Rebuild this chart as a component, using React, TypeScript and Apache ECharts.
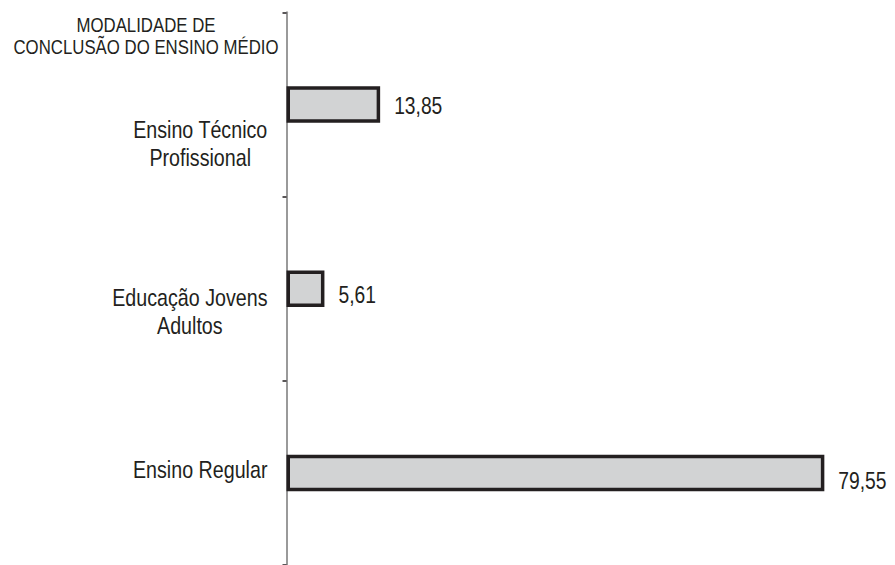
import React, { useEffect, useRef } from "react";
import * as echarts from "echarts";

const categories = ["Ensino Técnico\nProfissional", "Educação Jovens\nAdultos", "Ensino Regular"];
const values = [13.85, 5.61, 79.55];
const titleLines = ["MODALIDADE DE", "CONCLUSÃO DO ENSINO MÉDIO"];

// layout tweaks (not data)
const labelShift = [39, 23.5, -3];
const valueLabelShift = [2, 7, 8];

const FONT = "'Liberation Sans', Arial, Helvetica, sans-serif";
const NARROW = 0.82;
const CAT_SIZE = 24;
const INK = "#231f20";

function measure(text: string, size: number): number {
  const c = document.createElement("canvas").getContext("2d");
  if (!c) return text.length * size * 0.5;
  c.font = `${size}px ${FONT}`;
  return c.measureText(text).width;
}

export default function App() {
  const ref = useRef<HTMLDivElement>(null);
  useEffect(() => {
    if (!ref.current) return;
    const chart = echarts.init(ref.current, undefined, { renderer: "svg" });
    const pxPerUnit = 6.79;
    const xMax = 90;
    chart.setOption({
      animation: false,
      grid: { left: 286.5, top: 12.3, height: 558, width: xMax * pxPerUnit, containLabel: false },
      xAxis: { type: "value", min: 0, max: xMax, show: false },
      yAxis: {
        type: "category",
        inverse: true,
        data: categories,
        axisLine: { show: true, lineStyle: { color: "#9a9a9a", width: 2 } },
        axisTick: { show: true, length: 4, inside: false, lineStyle: { color: INK, width: 1.5 } },
        axisLabel: { show: false },
        splitLine: { show: false },
      },
      series: [
        {
          type: "bar",
          barWidth: 36.5,
          data: values,
          itemStyle: { color: "#d2d3d4", borderColor: INK, borderWidth: 3.5 },
          label: { show: false },
        },
      ],
    });

    const graphics: any[] = [
      {
        type: "text",
        id: "title",
        x: 146,
        y: 14,
        scaleX: NARROW,
        style: {
          text: titleLines.join("\n"),
          textAlign: "center",
          textVerticalAlign: "top",
          fontSize: 20.5,
          lineHeight: 22,
          fontFamily: FONT,
          fill: INK,
        },
      },
    ];

    categories.forEach((cat, i) => {
      const [axisX, yc] = chart.convertToPixel({ xAxisIndex: 0, yAxisIndex: 0 }, [0, i]) as number[];
      const lines = cat.split("\n");
      const w = Math.max(...lines.map((l) => measure(l, CAT_SIZE))) * NARROW;
      const rightEdge = axisX - 19;
      graphics.push({
        type: "text",
        id: "cat" + i,
        x: rightEdge - w / 2,
        y: yc + labelShift[i],
        scaleX: NARROW,
        style: {
          text: cat,
          textAlign: "center",
          textVerticalAlign: "middle",
          fontSize: CAT_SIZE,
          lineHeight: 28,
          fontFamily: FONT,
          fill: INK,
        },
      });
    });

    values.forEach((v, i) => {
      const [xe, yc] = chart.convertToPixel({ xAxisIndex: 0, yAxisIndex: 0 }, [v, i]) as number[];
      graphics.push({
        type: "text",
        id: "val" + i,
        x: xe + 14,
        y: yc + valueLabelShift[i],
        scaleX: NARROW,
        style: {
          text: v.toFixed(2).replace(".", ","),
          textAlign: "left",
          textVerticalAlign: "middle",
          fontSize: 23.5,
          fontFamily: FONT,
          fill: INK,
        },
      });
    });

    chart.setOption({ graphic: graphics });
    return () => chart.dispose();
  }, []);
  return (
    <div
      ref={ref}
      style={{ position: "absolute", left: 0, top: 0, width: 895, height: 565, background: "#fff" }}
    />
  );
}
